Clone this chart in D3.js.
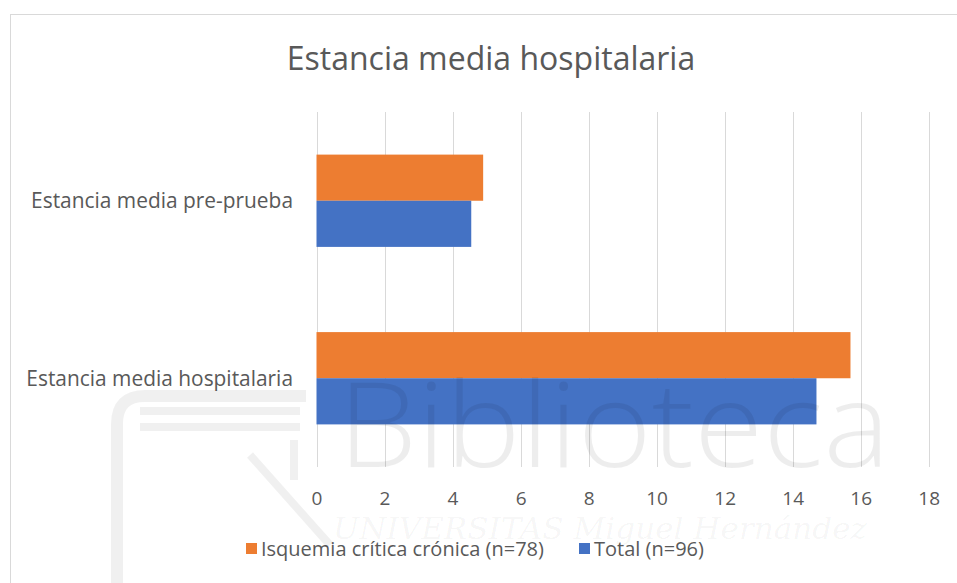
<!DOCTYPE html>
<html>
<head>
<meta charset="utf-8">
<script src="https://cdn.jsdelivr.net/npm/d3@7"></script>
<style>
  html, body { margin: 0; padding: 0; background: #fff; }
  svg { display: block; font-family: "Open Sans", sans-serif; }
</style>
</head>
<body>
<div id="chart"></div>
<script>
(function() {
  // chart data
  var categories = ['Estancia media pre-prueba', 'Estancia media hospitalaria'];
  var seriesNames = ['Isquemia crítica crónica (n=78)', 'Total (n=96)'];
  var isquemia = [4.9, 15.7];
  var total = [4.55, 14.7];
  var xTicks = [0, 2, 4, 6, 8, 10, 12, 14, 16, 18];
  var colors = ['#ED7D31', '#4472C4'];

  var W = 957, H = 583;
  var svg = d3.select('#chart').append('svg').attr('width', W).attr('height', H);

  // chart frame (right and bottom edges fall outside the picture)
  svg.append('rect').attr('x', 10.5).attr('y', 14.5).attr('width', 960).attr('height', 600)
    .attr('fill', '#fff').attr('stroke', '#D9D9D9').attr('stroke-width', 1);

  svg.append('text').attr('x', 491).attr('y', 70).attr('text-anchor', 'middle')
    .attr('fill', '#595959').style('font-size', '32px').text('Estancia media hospitalaria');

  var x = d3.scaleLinear().domain([0, 18]).range([316.5, 928.7]);
  var y = d3.scaleBand().domain(categories).range([112, 467]).paddingInner(0.48).paddingOuter(0.24);
  var ys = d3.scaleBand().domain(seriesNames).range([0, y.bandwidth()]);

  // gridlines
  svg.append('g').selectAll('line').data(xTicks).enter().append('line')
    .attr('x1', function(d) { return Math.round(x(d)) + 0.5; })
    .attr('x2', function(d) { return Math.round(x(d)) + 0.5; })
    .attr('y1', 112).attr('y2', 467)
    .attr('stroke', '#D9D9D9').attr('stroke-width', 1);

  // bars
  var series = [isquemia, total];
  var groups = svg.append('g').selectAll('g').data(series).enter().append('g')
    .attr('fill', function(d, i) { return colors[i]; });
  groups.each(function(vals, si) {
    d3.select(this).selectAll('rect').data(vals).enter().append('rect')
      .attr('x', x(0))
      .attr('y', function(d, ci) { return y(categories[ci]) + ys(seriesNames[si]); })
      .attr('width', function(d) { return x(d) - x(0); })
      .attr('height', ys.bandwidth());
  });

  // category labels
  svg.append('g').selectAll('text').data(categories).enter().append('text')
    .attr('x', 293).attr('y', function(d) { return y(d) + y.bandwidth() / 2; })
    .attr('dy', '0.36em').attr('text-anchor', 'end').attr('fill', '#595959')
    .style('font-size', '20.9px').text(function(d) { return d; });

  // x axis
  var xAxis = d3.axisBottom(x).tickValues(xTicks).tickSize(0).tickPadding(0).tickFormat(d3.format('d'));
  var ax = svg.append('g').attr('transform', 'translate(0,505)').call(xAxis);
  ax.select('.domain').remove();
  ax.selectAll('text').attr('dy', 0).attr('fill', '#595959').style('font-size', '19px')
    .style('font-family', '"Open Sans", sans-serif');

  // legend
  var legendX = [246, 579];
  var lg = svg.append('g').selectAll('g').data(seriesNames).enter().append('g')
    .attr('transform', function(d, i) { return 'translate(' + legendX[i] + ',543)'; });
  lg.append('rect').attr('width', 11).attr('height', 11).attr('fill', function(d, i) { return colors[i]; });
  lg.append('text').attr('x', 15).attr('y', 5.5).attr('dy', '0.36em').attr('fill', '#595959')
    .style('font-size', '20px').text(function(d) { return d; });

  // faint library watermark over the picture
  var wm = svg.append('g').attr('pointer-events', 'none');
  wm.append('path').attr('d', 'M306,396 L145,396 Q117,396 117,424 L117,600')
    .attr('fill', 'none').attr('stroke', '#000').attr('stroke-opacity', 0.06).attr('stroke-width', 12);
  wm.append('path').attr('d', 'M300,411 L140,411 M300,427 L140,427 M294,440 L294,480 M250,455 L330,545')
    .attr('fill', 'none').attr('stroke', '#000').attr('stroke-opacity', 0.06).attr('stroke-width', 8);
  wm.append('text').attr('x', 338).attr('y', 467).attr('textLength', 552).attr('lengthAdjust', 'spacingAndGlyphs')
    .style('font-size', '118px').style('font-weight', 300).attr('fill', '#000').attr('fill-opacity', 0.07)
    .text('Biblioteca');
  wm.append('text').attr('x', 333).attr('y', 539).attr('textLength', 534).attr('lengthAdjust', 'spacingAndGlyphs')
    .style('font-size', '30px').style('font-family', '"DejaVu Serif", serif')
    .style('font-style', 'italic').attr('fill', '#000').attr('fill-opacity', 0.045)
    .text('UNIVERSITAS Miguel Hernández');
})();
</script>
</body>
</html>
